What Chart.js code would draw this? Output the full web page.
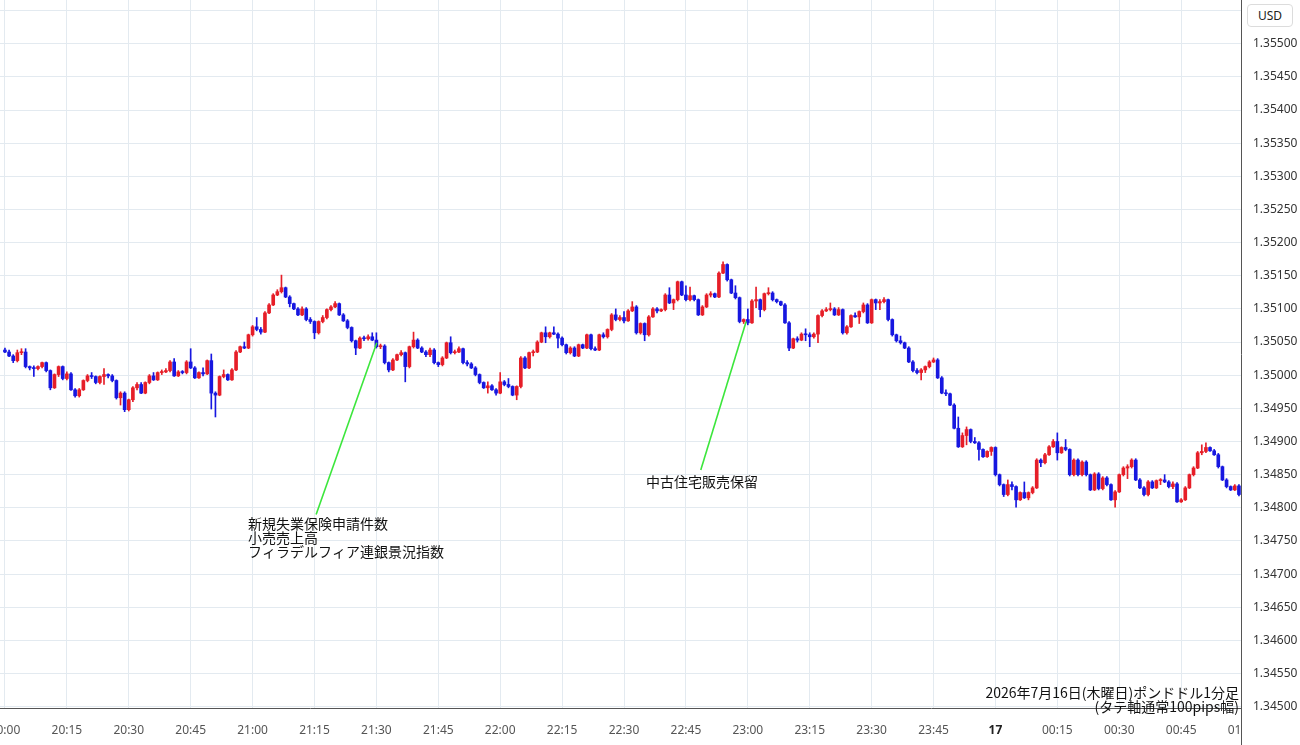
<!DOCTYPE html>
<html lang="ja">
<head>
<meta charset="utf-8">
<title>ポンドドル1分足</title>
<script src="https://cdn.jsdelivr.net/npm/chart.js@4.4.1/dist/chart.umd.min.js"></script>
<style>
  html, body { margin: 0; padding: 0; background: #fff; overflow: hidden; }
  body { width: 1300px; height: 745px; position: relative; font-family: "Noto Sans CJK JP", "Noto Sans", sans-serif; }
  #wrap { position: absolute; left: 0; top: 0; width: 1300px; height: 745px; }
  #usd { position: absolute; left: 1247px; top: 4px; width: 46px; height: 23px; box-sizing: border-box;
         border: 1px solid #dcdcdc; border-radius: 4px; background: #fff; color: #222;
         font: 12px "Noto Sans", sans-serif; line-height: 21px; text-align: center; }
  #caption { position: absolute; right: 61px; top: 685px; font-size: 14px; line-height: 14px; color: #111; text-align: right; white-space: nowrap; }
</style>
</head>
<body>
<div id="wrap"><canvas id="chart"></canvas></div>
<div id="usd">USD</div>
<div id="caption">2026年7月16日(木曜日)ポンドドル1分足<br>(タテ軸通常100pips幅)</div>
<script>
// prices are kept in pips above BASE_PRICE, one candle per minute from 20:00
const BASE_PRICE = 1.345;
const firstOpen = 53.8;

const closes = [
  53.5, 52.9, 52.2, 53.4, 53.5, 51.3, 51.1, 51.0, 51.3, 51.9,
  50.7, 48.1, 50.1, 51.3, 49.5, 50.2, 47.8, 46.9, 47.8, 49.2,
  49.9, 49.8, 48.9, 49.8, 50.1, 49.9, 49.2, 46.6, 47.3, 44.8,
  46.3, 48.1, 48.6, 47.3, 48.9, 49.9, 49.3, 50.4, 50.5, 50.7,
  52.0, 49.9, 50.5, 50.4, 52.0, 51.1, 49.6, 50.4, 50.2, 52.2,
  47.3, 47.0, 49.8, 50.1, 49.3, 50.8, 53.5, 54.3, 54.1, 56.1,
  57.3, 56.9, 56.5, 59.4, 60.6, 62.1, 62.6, 63.2, 61.8, 60.8,
  60.0, 59.1, 60.0, 58.4, 58.1, 56.4, 58.1, 58.7, 59.9, 60.3,
  60.8, 59.1, 58.2, 57.2, 55.2, 54.1, 55.6, 55.5, 55.8, 55.3,
  54.3, 54.4, 51.9, 50.8, 52.3, 53.1, 53.4, 51.3, 54.3, 55.3,
  54.1, 53.5, 53.1, 53.8, 51.9, 51.6, 52.6, 54.9, 53.4, 53.5,
  54.0, 51.9, 51.7, 51.1, 50.1, 48.9, 48.1, 48.4, 47.8, 47.3,
  49.0, 48.6, 48.3, 47.0, 48.3, 52.6, 51.1, 53.4, 53.5, 55.0,
  56.4, 55.8, 56.4, 56.2, 55.6, 54.6, 53.4, 54.1, 52.9, 54.6,
  54.1, 56.1, 54.0, 53.8, 56.1, 55.8, 56.9, 59.1, 58.4, 58.7,
  58.2, 59.7, 60.3, 56.4, 57.8, 56.1, 58.8, 60.0, 59.7, 59.9,
  62.1, 60.9, 61.4, 64.1, 62.1, 61.4, 62.0, 61.4, 59.1, 60.3,
  62.1, 62.3, 61.8, 65.4, 66.7, 64.4, 62.4, 61.7, 58.1, 58.4,
  57.9, 61.2, 61.4, 59.9, 62.3, 62.4, 61.4, 61.1, 60.6, 57.9,
  54.1, 55.5, 55.3, 56.2, 56.1, 55.8, 56.2, 59.0, 59.7, 59.9,
  60.0, 59.1, 59.9, 56.4, 57.3, 59.0, 58.8, 59.6, 60.6, 57.9,
  61.4, 60.9, 61.1, 61.4, 58.4, 56.1, 55.2, 54.9, 54.1, 52.0,
  50.7, 50.4, 50.8, 51.3, 52.0, 52.3, 49.6, 47.3, 47.2, 45.5,
  42.0, 39.2, 40.9, 41.8, 40.0, 39.8, 38.8, 37.7, 38.5, 39.1,
  35.0, 33.5, 32.0, 33.5, 33.2, 31.2, 32.3, 31.5, 32.3, 33.0,
  37.2, 36.8, 38.0, 39.2, 40.0, 38.3, 39.1, 38.8, 35.0, 37.2,
  35.0, 36.9, 35.0, 32.7, 35.1, 32.9, 34.5, 33.5, 31.2, 32.4,
  35.0, 36.0, 36.2, 37.2, 34.2, 33.0, 32.0, 33.9, 33.0, 34.1,
  34.2, 33.9, 33.2, 33.6, 30.9, 31.2, 33.0, 35.0, 36.0, 38.3,
  38.5, 39.1, 38.6, 38.0, 36.2, 34.2, 33.2, 32.7, 33.3, 32.0
];

const highs = [
  54.1, 53.8, 53.1, 53.8, 54.0, 54.0, 51.4, 51.4, 51.4, 52.0,
  52.0, 50.8, 50.2, 51.4, 51.4, 50.5, 50.4, 48.0, 48.0, 49.3,
  50.1, 50.4, 49.9, 49.9, 51.0, 50.2, 50.1, 49.3, 47.5, 47.5,
  46.4, 48.3, 48.9, 48.9, 49.0, 50.1, 50.4, 50.5, 50.8, 51.0,
  52.2, 52.5, 50.7, 50.7, 52.2, 54.0, 51.3, 50.5, 51.1, 52.3,
  53.2, 47.5, 49.9, 50.8, 50.2, 51.0, 53.7, 54.4, 55.0, 56.2,
  57.5, 58.7, 57.2, 59.6, 60.8, 62.3, 62.9, 65.1, 63.3, 62.0,
  60.9, 60.2, 60.3, 60.2, 58.7, 58.2, 58.2, 59.0, 60.0, 60.5,
  61.1, 60.9, 59.3, 58.4, 57.3, 55.3, 55.8, 55.9, 56.1, 56.4,
  56.4, 54.7, 54.6, 52.0, 52.5, 53.2, 53.7, 53.5, 54.4, 56.5,
  55.5, 54.3, 53.7, 54.1, 54.0, 52.0, 52.8, 55.0, 55.8, 53.8,
  54.3, 54.1, 52.2, 51.9, 51.3, 50.2, 49.0, 49.0, 48.6, 48.0,
  50.4, 49.2, 49.5, 48.4, 48.4, 52.8, 52.8, 53.5, 53.8, 55.2,
  56.5, 57.3, 56.5, 57.3, 56.4, 55.8, 54.7, 54.3, 54.3, 54.7,
  54.7, 56.2, 56.2, 54.3, 56.2, 56.4, 57.0, 59.3, 60.0, 59.0,
  59.6, 59.9, 61.1, 60.5, 57.9, 57.9, 59.0, 60.2, 60.2, 60.0,
  62.3, 63.2, 61.5, 64.2, 64.2, 63.5, 63.3, 62.1, 61.5, 60.5,
  62.3, 62.6, 62.4, 65.6, 67.1, 66.8, 64.5, 63.5, 61.8, 58.5,
  60.0, 61.4, 63.3, 61.5, 62.4, 63.2, 62.6, 61.5, 61.2, 60.8,
  58.1, 55.6, 55.8, 56.4, 57.0, 56.4, 56.4, 59.1, 59.9, 60.2,
  60.9, 60.2, 60.2, 60.0, 57.5, 59.1, 59.4, 59.7, 60.9, 60.8,
  61.5, 61.5, 61.4, 61.7, 61.5, 58.5, 56.2, 55.9, 55.0, 54.3,
  52.2, 51.0, 51.0, 51.4, 52.2, 52.6, 52.5, 49.8, 47.8, 47.3,
  45.7, 43.7, 41.3, 42.2, 41.9, 40.6, 40.0, 38.9, 38.6, 39.2,
  39.2, 35.1, 33.6, 34.2, 33.9, 33.3, 32.4, 33.9, 32.4, 33.2,
  37.4, 37.4, 38.2, 39.4, 40.3, 41.3, 39.2, 40.3, 38.9, 37.4,
  37.4, 37.1, 37.1, 35.1, 35.3, 35.3, 34.7, 34.7, 33.6, 32.6,
  35.1, 36.2, 36.5, 37.4, 37.4, 34.4, 33.2, 34.1, 34.1, 34.2,
  34.4, 35.0, 34.1, 33.9, 33.8, 31.4, 33.2, 35.1, 36.2, 38.5,
  39.5, 39.8, 39.2, 38.8, 38.2, 36.3, 34.4, 33.3, 33.5, 33.5
];

const lows = [
  53.4, 52.8, 51.9, 52.0, 53.1, 51.1, 50.8, 49.8, 50.8, 51.1,
  50.5, 47.8, 48.0, 49.8, 49.3, 49.3, 47.7, 46.7, 46.7, 47.7,
  49.0, 49.5, 48.7, 48.7, 48.6, 49.6, 49.0, 46.4, 45.5, 44.5,
  44.6, 46.0, 47.8, 47.2, 47.2, 48.7, 49.2, 49.2, 50.1, 50.4,
  50.5, 49.8, 49.8, 50.2, 50.2, 51.0, 49.5, 49.5, 49.9, 50.1,
  44.9, 43.7, 46.9, 49.6, 49.2, 49.2, 50.7, 53.4, 54.0, 54.0,
  55.9, 56.7, 56.2, 56.4, 59.3, 60.5, 62.0, 62.4, 61.7, 60.3,
  59.9, 59.0, 59.0, 58.2, 57.8, 55.5, 56.2, 57.9, 58.5, 59.7,
  60.2, 59.0, 58.1, 57.0, 55.0, 53.1, 54.0, 55.2, 55.3, 55.2,
  54.1, 54.0, 51.7, 50.5, 50.7, 52.2, 52.9, 49.0, 51.1, 54.1,
  54.0, 53.4, 52.8, 52.8, 51.7, 51.3, 51.4, 52.5, 53.2, 53.2,
  53.4, 51.7, 51.4, 51.0, 49.9, 48.7, 48.0, 47.3, 47.7, 47.0,
  47.2, 48.4, 48.1, 46.9, 46.3, 48.1, 51.0, 51.0, 52.9, 53.4,
  54.9, 54.9, 55.6, 56.1, 54.1, 54.4, 53.2, 53.2, 52.8, 52.8,
  54.0, 54.0, 53.8, 53.7, 53.7, 55.6, 55.6, 56.7, 58.2, 58.2,
  57.9, 58.1, 59.6, 56.2, 56.2, 55.2, 55.9, 58.7, 59.4, 59.6,
  59.7, 60.8, 59.9, 61.2, 62.0, 61.2, 61.2, 61.2, 59.0, 59.0,
  60.2, 61.8, 61.7, 61.7, 65.3, 64.2, 62.3, 61.5, 57.9, 57.8,
  57.6, 57.8, 60.2, 58.8, 59.7, 62.1, 61.2, 60.9, 60.5, 57.8,
  53.7, 54.0, 55.0, 55.2, 55.2, 54.3, 55.6, 54.9, 58.8, 59.6,
  59.7, 59.0, 59.0, 56.2, 56.2, 57.2, 58.7, 57.8, 59.4, 57.8,
  57.8, 59.9, 59.9, 60.9, 58.2, 55.9, 55.0, 54.7, 54.0, 51.9,
  50.5, 50.2, 49.3, 50.4, 51.1, 51.9, 49.5, 47.2, 46.9, 45.4,
  41.9, 39.1, 39.1, 39.5, 39.8, 39.7, 37.2, 37.6, 37.6, 37.9,
  34.8, 33.3, 31.7, 31.8, 32.7, 30.1, 31.1, 31.4, 31.2, 32.1,
  32.9, 36.2, 36.6, 37.9, 39.1, 37.2, 38.2, 38.6, 34.8, 34.8,
  34.8, 34.8, 34.8, 32.6, 32.6, 32.7, 32.7, 33.3, 31.1, 30.1,
  32.3, 34.8, 34.4, 36.0, 34.1, 32.9, 31.8, 31.8, 32.9, 32.9,
  33.5, 33.8, 33.0, 32.9, 30.8, 30.8, 31.1, 32.9, 34.8, 35.9,
  38.0, 38.3, 38.5, 37.9, 36.0, 34.1, 33.0, 32.6, 32.6, 31.8
];

// x ticks in minutes after 20:00
const timeTicks = [0, 15, 30, 45, 60, 75, 90, 105, 120, 135, 150, 165, 180, 195, 210, 225, 240, 255, 270, 285, 300];
const timeTickLabels = ['20:00', '20:15', '20:30', '20:45', '21:00', '21:15', '21:30', '21:45', '22:00', '22:15',
  '22:30', '22:45', '23:00', '23:15', '23:30', '23:45', '17', '00:15', '00:30', '00:45', '01:00'];
const priceTicks = [1.345, 1.3455, 1.346, 1.3465, 1.347, 1.3475, 1.348, 1.3485, 1.349, 1.3495, 1.35,
  1.3505, 1.351, 1.3515, 1.352, 1.3525, 1.353, 1.3535, 1.354, 1.3545, 1.355, 1.3555];

// event notes: text anchor, and the green leader line (minute, price)
const notes = [
  { lines: ['新規失業保険申請件数', '小売売上高', 'フィラデルフィア連銀景況指数'],
    at: [58.9, 1.34776], from: [75.4, 1.34790], to: [90.1, 1.35049] },
  { lines: ['中古住宅販売保留'],
    at: [155.3, 1.34839], from: [168.6, 1.34857], to: [179.6, 1.35081] }
];

const toPrice = p => BASE_PRICE + p / 10000;
const opens = [firstOpen].concat(closes.slice(0, -1));
const candleMinutes = closes.map((_, i) => i);

const UP = '#e61e28';
const DOWN = '#1717e0';
const candleColors = closes.map((c, i) => c > opens[i] ? UP : DOWN);

const bodies = candleMinutes.map((m, i) => ({ x: m, y: [toPrice(opens[i]), toPrice(closes[i])] }));
const wicks = candleMinutes.map((m, i) => ({ x: m, y: [toPrice(lows[i]), toPrice(highs[i])] }));

const GRID = '#e3eaf0';
const X_MAX = 299.5;

const notePlugin = {
  id: 'notes',
  afterDatasetsDraw(chart) {
    const { ctx } = chart;
    const x = chart.scales.x, y = chart.scales.y;
    ctx.save();
    notes.forEach(n => {
      ctx.strokeStyle = '#3ce63c';
      ctx.lineWidth = 1.6;
      ctx.beginPath();
      ctx.moveTo(x.getPixelForValue(n.from[0]), y.getPixelForValue(n.from[1]));
      ctx.lineTo(x.getPixelForValue(n.to[0]), y.getPixelForValue(n.to[1]));
      ctx.stroke();
      ctx.fillStyle = '#111';
      ctx.font = '14px "Noto Sans CJK JP"';
      ctx.textBaseline = 'middle';
      const tx = x.getPixelForValue(n.at[0]);
      const ty = y.getPixelForValue(n.at[1]);
      n.lines.forEach((t, k) => ctx.fillText(t, tx, ty + k * 14));
    });
    ctx.restore();
  },
  afterDraw(chart) {
    // the last time label is cut by the price panel, and the panel border runs to the bottom
    const { ctx, chartArea, width, height } = chart;
    ctx.save();
    ctx.fillStyle = '#fff';
    ctx.fillRect(chartArea.right + 1, chartArea.bottom + 12, width, height);
    ctx.strokeStyle = '#555';
    ctx.lineWidth = 1;
    ctx.beginPath();
    ctx.moveTo(Math.round(chartArea.right) + 0.5, chartArea.bottom);
    ctx.lineTo(Math.round(chartArea.right) + 0.5, height);
    ctx.stroke();
    ctx.restore();
  }
};

Chart.defaults.font.family = '"Noto Sans", "Noto Sans CJK JP", sans-serif';

new Chart(document.getElementById('chart'), {
  type: 'bar',
  data: {
    datasets: [
      {
        label: 'body',
        data: bodies,
        backgroundColor: candleColors,
        barThickness: 3,
        minBarLength: 1,
        grouped: false,
        borderWidth: 0
      },
      {
        label: 'wick',
        data: wicks,
        backgroundColor: candleColors,
        barThickness: 1,
        minBarLength: 1,
        grouped: false,
        borderWidth: 0
      }
    ]
  },
  options: {
    responsive: true,
    maintainAspectRatio: false,
    animation: false,
    events: [],
    layout: { padding: 0 },
    plugins: {
      legend: { display: false },
      tooltip: { enabled: false }
    },
    scales: {
      x: {
        type: 'linear',
        offset: false,
        min: -1.2,
        max: X_MAX,
        afterBuildTicks: s => { s.ticks = timeTicks.map(v => ({ value: v })); },
        afterFit: s => { s.height = 37; s.paddingLeft = 0; s.paddingRight = 0; },
        grid: {
          offset: false,
          color: c => (c.tick && c.tick.value > X_MAX) ? 'rgba(0,0,0,0)' : GRID,
          drawTicks: false
        },
        border: { display: true, color: '#555', width: 1 },
        ticks: {
          padding: 15,
          autoSkip: false,
          maxRotation: 0,
          color: c => (c.tick && c.tick.value === 240) ? '#222' : '#555',
          font: c => ({ size: 12, weight: (c.tick && c.tick.value === 240) ? 'bold' : 'normal' }),
          callback: v => timeTickLabels[timeTicks.indexOf(v)]
        }
      },
      y: {
        position: 'right',
        min: 1.34498,
        max: 1.35566,
        afterBuildTicks: s => { s.ticks = priceTicks.map(v => ({ value: v })); },
        afterFit: s => { s.width = 59; s.paddingTop = 0; s.paddingBottom = 0; },
        grid: { color: GRID, drawTicks: false },
        border: { display: true, color: '#555', width: 1 },
        ticks: {
          padding: 12,
          color: '#333',
          font: { size: 12 },
          callback: v => v > 1.3553 ? '' : v.toFixed(5)
        }
      }
    }
  },
  plugins: [notePlugin]
});
</script>
</body>
</html>
